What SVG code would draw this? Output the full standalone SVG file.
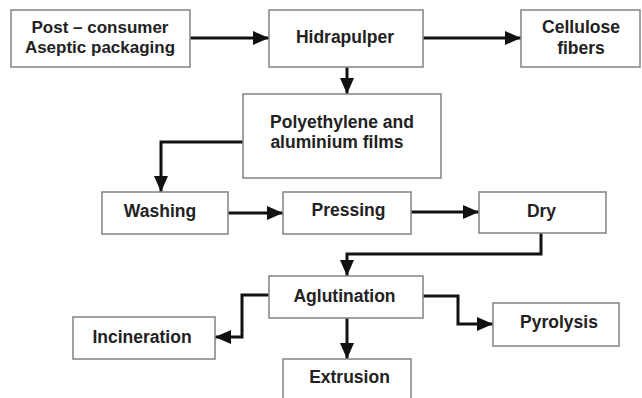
<svg xmlns="http://www.w3.org/2000/svg" width="642" height="398" viewBox="0 0 642 398">
<style>
.box{fill:#fff;stroke:#8a8a8a;stroke-width:1.6}
.t{font-family:"Liberation Sans",Arial,sans-serif;font-weight:bold;font-size:17.5px;fill:#222;text-anchor:middle}
.c{fill:none;stroke:#111;stroke-width:3}
</style>
<defs>
<marker id="ah" markerUnits="userSpaceOnUse" markerWidth="16" markerHeight="14" refX="16" refY="7" orient="auto">
<path d="M0,0 L16,7 L0,14 z" fill="#111"/>
</marker>
</defs>
<rect width="642" height="398" fill="#fff"/>
<g id="connectors">
<path class="c" d="M190,38 H269" marker-end="url(#ah)"/>
<path class="c" d="M423,38 H521" marker-end="url(#ah)"/>
<path class="c" d="M347,67 V94" marker-end="url(#ah)"/>
<path class="c" d="M243,142 H161 V192" marker-end="url(#ah)"/>
<path class="c" d="M228,213 H283" marker-end="url(#ah)"/>
<path class="c" d="M411,212 H479" marker-end="url(#ah)"/>
<path class="c" d="M541,233 V254 H347 V276" marker-end="url(#ah)"/>
<path class="c" d="M269,295 H242 V337 H215" marker-end="url(#ah)"/>
<path class="c" d="M347,318 V359" marker-end="url(#ah)"/>
<path class="c" d="M423,296 H458 V324 H493" marker-end="url(#ah)"/>
</g>
<g id="post">
<rect class="box" x="11" y="10" width="179" height="57"/>
<text class="t" style="font-size:17px" x="100" y="32.5">Post – consumer</text>
<text class="t" style="font-size:17px" x="100" y="53">Aseptic packaging</text>
</g>
<g id="hidrapulper">
<rect class="box" x="269" y="10" width="154" height="57"/>
<text class="t" x="345" y="43">Hidrapulper</text>
</g>
<g id="cellulose">
<rect class="box" x="521" y="10" width="119" height="57"/>
<text class="t" x="581" y="33">Cellulose</text>
<text class="t" x="581" y="54">fibers</text>
</g>
<g id="polyethylene">
<rect class="box" x="243" y="94" width="198" height="84"/>
<text class="t" x="342" y="128">Polyethylene and</text>
<text class="t" x="337" y="148">aluminium films</text>
</g>
<g id="washing">
<rect class="box" x="102" y="192" width="126" height="42"/>
<text class="t" x="160" y="217">Washing</text>
</g>
<g id="pressing">
<rect class="box" x="283" y="192" width="128" height="42"/>
<text class="t" x="348.5" y="216">Pressing</text>
</g>
<g id="dry">
<rect class="box" x="479" y="192" width="127" height="41"/>
<text class="t" x="541.5" y="217">Dry</text>
</g>
<g id="aglutination">
<rect class="box" x="269" y="276" width="154" height="42"/>
<text class="t" x="344.5" y="302">Aglutination</text>
</g>
<g id="incineration">
<rect class="box" x="73" y="317" width="142" height="42"/>
<text class="t" x="142" y="343">Incineration</text>
</g>
<g id="pyrolysis">
<rect class="box" x="493" y="303" width="126" height="43"/>
<text class="t" x="559" y="328">Pyrolysis</text>
</g>
<g id="extrusion">
<rect class="box" x="283" y="359" width="128" height="42"/>
<text class="t" x="349.5" y="383">Extrusion</text>
</g>
</svg>
